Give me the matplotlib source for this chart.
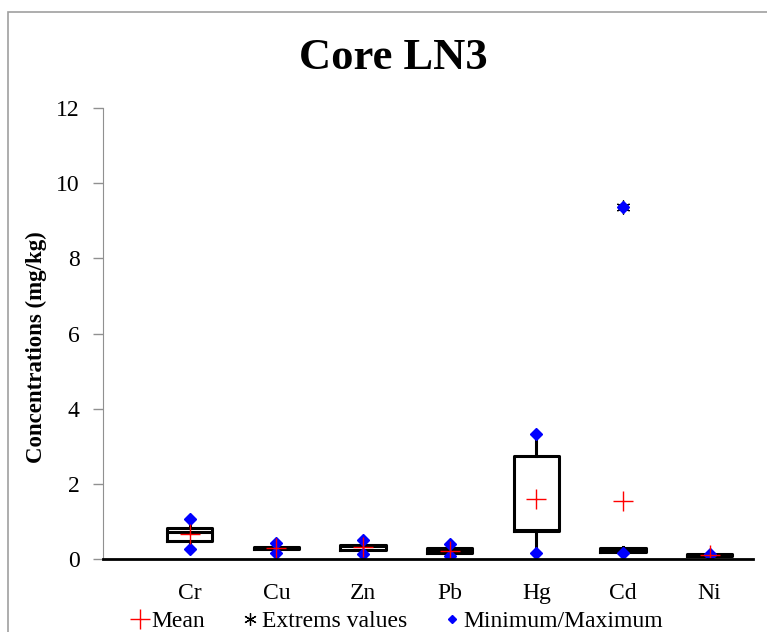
import matplotlib
matplotlib.use("Agg")
import matplotlib.pyplot as plt
from matplotlib.lines import Line2D
from matplotlib.patches import Rectangle

plt.rcParams["font.family"] = ["Liberation Serif", "DejaVu Serif"]

# Summary statistics per metal (mg/kg)
metals = ["Cr", "Cu", "Zn", "Pb", "Hg", "Cd", "Ni"]
q1 = [0.48, 0.27, 0.25, 0.16, 0.75, 0.19, 0.09]
medians = [0.73, 0.30, 0.34, 0.22, 0.76, 0.22, 0.11]
q3 = [0.82, 0.33, 0.36, 0.28, 2.74, 0.28, 0.13]
whisker_lo = [0.26, 0.17, 0.13, 0.08, 0.16, 0.15, 0.10]
whisker_hi = [1.06, 0.43, 0.51, 0.40, 3.33, 0.32, 0.13]
means = [0.67, 0.30, 0.31, 0.22, 1.60, 1.53, 0.11]
minimums = [0.26, 0.17, 0.13, 0.08, 0.16, 0.15, 0.11]
maximums = [1.06, 0.43, 0.51, 0.40, 3.33, 9.37, 0.12]
extreme_x = ["Cd"]
extreme_y = [9.37]

fig = plt.figure(figsize=(7.67, 6.32), dpi=100)
ax = fig.add_axes([103 / 767, 1 - 559 / 632, 650 / 767, 451 / 632])

# light frame around the chart area
fig.add_artist(Rectangle((8 / 767, -0.05), 1.1, 1 - 12 / 632 + 0.05,
                         transform=fig.transFigure, fill=False,
                         edgecolor="#a0a0a0", linewidth=1.2, clip_on=False))

pos = list(range(1, len(metals) + 1))
stats = [
    dict(q1=q1[i], med=medians[i], q3=q3[i],
         whislo=whisker_lo[i], whishi=whisker_hi[i], fliers=[])
    for i in range(len(metals))
]
ax.bxp(stats, positions=pos, widths=0.52, showcaps=False, showfliers=False,
       boxprops=dict(color="black", linewidth=2.2),
       medianprops=dict(color="black", linewidth=2.2),
       whiskerprops=dict(color="black", linewidth=2.2))

idx = {m: p for m, p in zip(metals, pos)}
ax.plot(pos, minimums, linestyle="none", marker="D", markersize=6,
        color="#0000ff", zorder=4)
ax.plot(pos, maximums, linestyle="none", marker="D", markersize=6,
        color="#0000ff", zorder=4)
ax.plot([idx[m] for m in extreme_x], extreme_y, linestyle="none",
        marker=(6, 2, 0), markersize=10, color="black", mew=0.9, zorder=3)
ax.plot(pos, means, linestyle="none", marker="+", markersize=14,
        color="#ff0000", mew=1.0, zorder=5)

ax.set_xlim(0, 7.5)
ax.set_ylim(0, 12)
ax.set_yticks(range(0, 13, 2))
ax.set_xticks(pos)
ax.set_xticklabels(metals)
ax.tick_params(axis="x", length=0, pad=17, labelsize=17)
ax.tick_params(axis="y", length=7, width=1, color="#909090", pad=10,
               labelsize=17)

for side in ("top", "right"):
    ax.spines[side].set_visible(False)
ax.spines["left"].set_color("#909090")
ax.spines["bottom"].set_linewidth(2)
ax.spines["bottom"].set_zorder(6)

ax.set_ylabel("Concentrations (mg/kg)", fontsize=16.5, fontweight="bold")
ax.yaxis.set_label_coords(-0.086, 0.47)
fig.text(393 / 767, 1 - 58 / 632, "Core LN3", fontsize=32, fontweight="bold",
         ha="center", va="center")

handles = [
    Line2D([], [], linestyle="none", marker="+", markersize=14,
           color="#ff0000", mew=1.0),
    Line2D([], [], linestyle="none", marker=(6, 2, 0), markersize=9,
           color="black", mew=0.9),
    Line2D([], [], linestyle="none", marker="D", markersize=4,
           color="#0000ff"),
]
fig.legend(handles, ["Mean", "Extrems values", "Minimum/Maximum"],
           loc="center", bbox_to_anchor=(398 / 767, 1 - 621 / 632),
           ncol=3, frameon=False, fontsize=17, handlelength=0.6,
           handletextpad=0.2, columnspacing=1.6, borderpad=0)

fig.savefig("out.png", dpi=100)
